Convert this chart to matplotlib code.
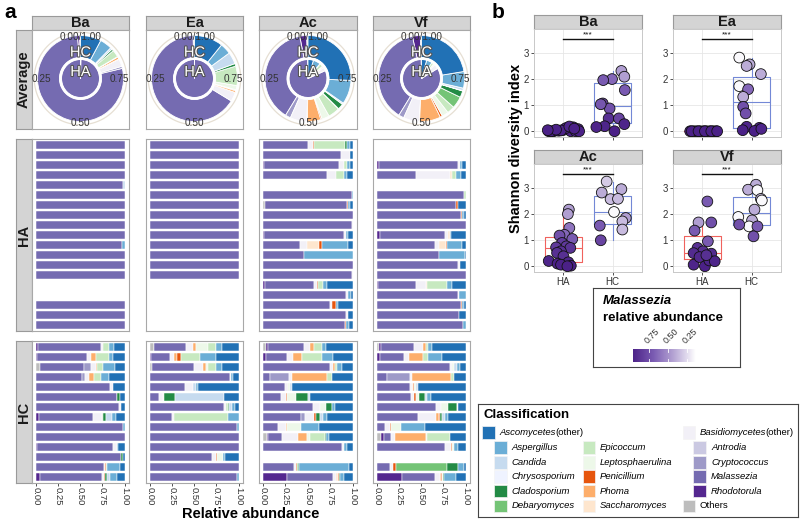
import numpy as np
import matplotlib
matplotlib.use("Agg")
import matplotlib.pyplot as plt
from matplotlib.patches import Rectangle
from matplotlib.text import Annotation
import matplotlib.patheffects as pe
from matplotlib.colors import LinearSegmentedColormap, Normalize

plt.rcParams['font.family'] = ['Liberation Sans', 'DejaVu Sans']

# ---------------- data ----------------
class_names = ["Ascomycetes(other)", "Aspergillus", "Candida", "Chrysosporium", "Cladosporium",
               "Debaryomyces", "Epicoccum", "Leptosphaerulina", "Penicillium", "Phoma",
               "Saccharomyces", "Basidiomycetes(other)", "Antrodia", "Cryptococcus",
               "Malassezia", "Rhodotorula", "Others"]
class_keys = ["Asc", "Asp", "Can", "Chr", "Cla", "Deb", "Epi", "Lep", "Pen", "Pho",
              "Sac", "Bas", "Ant", "Cry", "Mal", "Rho", "Oth"]
class_colors = ["#2171b5", "#6baed6", "#c6dbef", "#eff3ff", "#238b45", "#74c476", "#c7e9c0",
                "#edf8e9", "#e6550d", "#fdae6b", "#fee6ce", "#f2f0f7", "#cbc9e2", "#9e9ac8",
                "#756bb1", "#54278f", "#bdbdbd"]

sites = ["Ba", "Ea", "Ac", "Vf"]

ba_ha = [
    {"Mal": 1.0}, {"Mal": 1.0}, {"Mal": 1.0}, {"Mal": 1.0},
    {"Mal": 0.98, "Can": 0.02},
    {"Mal": 1.0}, {"Mal": 1.0}, {"Mal": 1.0}, {"Mal": 1.0}, {"Mal": 1.0},
    {"Mal": 0.975, "Asp": 0.025},
    {"Mal": 1.0}, {"Mal": 1.0}, {"Mal": 1.0},
    None, None,
    {"Mal": 1.0}, {"Mal": 1.0}, {"Mal": 1.0},
]
ea_ha = [
    {"Mal": 1.0}, {"Mal": 1.0}, {"Mal": 1.0}, {"Mal": 1.0}, {"Mal": 1.0},
    {"Mal": 1.0}, {"Mal": 1.0}, {"Mal": 1.0}, {"Mal": 1.0}, {"Mal": 1.0},
    {"Mal": 1.0}, {"Mal": 1.0}, {"Mal": 1.0}, {"Mal": 1.0},
    None, None, None, None, None,
]
ac_ha = [
    {"Mal": 0.50, "Bas": 0.06, "Pen": 0.01, "Epi": 0.35, "Cla": 0.02, "Asp": 0.03, "Asc": 0.03},
    {"Mal": 0.87, "Bas": 0.10, "Asc": 0.03},
    {"Rho": 0.01, "Mal": 0.84, "Bas": 0.05, "Sac": 0.01, "Epi": 0.03, "Asp": 0.03, "Asc": 0.03},
    {"Mal": 0.72, "Bas": 0.10, "Epi": 0.08, "Asp": 0.04, "Asc": 0.06},
    None,
    {"Mal": 0.99, "Asp": 0.01},
    {"Oth": 0.02, "Mal": 0.92, "Pen": 0.01, "Asp": 0.02, "Asc": 0.03},
    {"Mal": 1.0},
    {"Mal": 0.99, "Bas": 0.01},
    {"Rho": 0.01, "Mal": 0.89, "Bas": 0.03, "Asp": 0.02, "Asc": 0.05},
    {"Mal": 0.41, "Bas": 0.08, "Sac": 0.13, "Pen": 0.04, "Asp": 0.29, "Asc": 0.05},
    {"Mal": 0.46, "Asp": 0.54},
    {"Mal": 1.0},
    {"Mal": 0.99, "Bas": 0.01},
    {"Rho": 0.02, "Mal": 0.55, "Bas": 0.03, "Pen": 0.01, "Epi": 0.06, "Asp": 0.05, "Asc": 0.28},
    {"Mal": 0.93, "Bas": 0.02, "Asp": 0.03, "Asc": 0.02},
    {"Mal": 0.75, "Bas": 0.02, "Pen": 0.05, "Asp": 0.02, "Asc": 0.16},
    {"Mal": 0.93, "Bas": 0.02, "Asc": 0.05},
    {"Mal": 0.92, "Pen": 0.01, "Asp": 0.03, "Asc": 0.04},
]
vf_ha = [
    None, None,
    {"Rho": 0.02, "Mal": 0.90, "Bas": 0.02, "Asp": 0.02, "Asc": 0.04},
    {"Mal": 0.44, "Bas": 0.38, "Sac": 0.03, "Epi": 0.04, "Asp": 0.06, "Asc": 0.05},
    None,
    {"Mal": 0.98, "Epi": 0.02},
    {"Mal": 0.89, "Pen": 0.03, "Asc": 0.08},
    {"Mal": 0.95, "Pen": 0.01, "Asp": 0.02, "Asc": 0.02},
    {"Mal": 1.0},
    {"Rho": 0.03, "Mal": 0.74, "Bas": 0.03, "Sac": 0.02, "Asp": 0.02, "Asc": 0.16},
    {"Mal": 0.65, "Bas": 0.05, "Sac": 0.08, "Pen": 0.01, "Asp": 0.17, "Asc": 0.04},
    {"Mal": 0.70, "Asp": 0.29, "Asc": 0.01},
    {"Mal": 0.92, "Bas": 0.02, "Asc": 0.06},
    {"Mal": 1.0},
    {"Rho": 0.01, "Mal": 0.43, "Bas": 0.11, "Sac": 0.01, "Epi": 0.23, "Asp": 0.06, "Asc": 0.15},
    {"Mal": 0.91, "Bas": 0.02, "Asp": 0.07},
    {"Mal": 0.95, "Pen": 0.01, "Asp": 0.02, "Asc": 0.02},
    {"Mal": 0.93, "Asc": 0.07},
    {"Mal": 0.97, "Asp": 0.03},
]
ba_hc = [
    {"Rho": 0.02, "Mal": 0.71, "Bas": 0.03, "Epi": 0.06, "Asp": 0.06, "Asc": 0.12},
    {"Rho": 0.01, "Mal": 0.57, "Bas": 0.04, "Pho": 0.06, "Epi": 0.14, "Asp": 0.05, "Asc": 0.13},
    {"Oth": 0.05, "Mal": 0.49, "Cry": 0.08, "Bas": 0.06, "Pho": 0.01, "Epi": 0.07, "Asp": 0.13, "Asc": 0.11},
    {"Mal": 0.52, "Cry": 0.03, "Bas": 0.05, "Pho": 0.05, "Epi": 0.08, "Asp": 0.09, "Asc": 0.18},
    {"Mal": 0.84, "Bas": 0.03, "Asc": 0.13},
    {"Mal": 0.91, "Bas": 0.01, "Cla": 0.03, "Asc": 0.05},
    {"Mal": 0.94, "Bas": 0.02, "Asc": 0.04},
    {"Rho": 0.03, "Mal": 0.61, "Bas": 0.10, "Epi": 0.02, "Cla": 0.03, "Can": 0.07, "Asp": 0.04, "Asc": 0.10},
    {"Mal": 0.98, "Asp": 0.02},
    {"Mal": 1.0},
    {"Rho": 0.01, "Mal": 0.86, "Bas": 0.04, "Asp": 0.02, "Asc": 0.07},
    {"Mal": 0.96, "Cla": 0.02, "Asc": 0.02},
    {"Mal": 0.77, "Sac": 0.01, "Pen": 0.01, "Epi": 0.01, "Asp": 0.15, "Asc": 0.05},
    {"Rho": 0.04, "Mal": 0.71, "Bas": 0.02, "Pen": 0.01, "Cla": 0.02, "Can": 0.03, "Asp": 0.08, "Asc": 0.09},
]
ea_hc = [
    {"Oth": 0.04, "Rho": 0.01, "Mal": 0.36, "Bas": 0.08, "Pho": 0.03, "Lep": 0.13, "Epi": 0.09, "Cla": 0.01, "Asp": 0.06, "Asc": 0.19},
    {"Rho": 0.01, "Mal": 0.22, "Bas": 0.04, "Pho": 0.04, "Pen": 0.04, "Epi": 0.21, "Asp": 0.19, "Asc": 0.25},
    {"Oth": 0.02, "Mal": 0.48, "Bas": 0.10, "Pho": 0.03, "Lep": 0.02, "Epi": 0.09, "Asp": 0.07, "Asc": 0.19},
    {"Mal": 0.90, "Bas": 0.02, "Asp": 0.02, "Asc": 0.06},
    {"Mal": 0.40, "Bas": 0.09, "Can": 0.03, "Asp": 0.02, "Asc": 0.46},
    {"Mal": 0.10, "Bas": 0.05, "Lep": 0.01, "Cla": 0.12, "Can": 0.55, "Asc": 0.17},
    {"Mal": 0.83, "Bas": 0.03, "Epi": 0.02, "Cla": 0.01, "Can": 0.04, "Asp": 0.03, "Asc": 0.04},
    {"Mal": 0.25, "Bas": 0.02, "Epi": 0.61, "Asp": 0.12},
    {"Mal": 0.98, "Asp": 0.02},
    {"Mal": 1.0},
    {"Mal": 1.0},
    {"Mal": 0.70, "Bas": 0.05, "Pen": 0.01, "Lep": 0.06, "Asp": 0.03, "Asc": 0.15},
    {"Mal": 1.0},
    {"Mal": 0.98, "Asp": 0.02},
]
ac_hc = [
    {"Oth": 0.03, "Rho": 0.02, "Mal": 0.41, "Bas": 0.07, "Pho": 0.04, "Epi": 0.09, "Asp": 0.04, "Asc": 0.30},
    {"Rho": 0.03, "Mal": 0.24, "Bas": 0.06, "Pho": 0.10, "Lep": 0.01, "Epi": 0.22, "Asp": 0.12, "Asc": 0.22},
    {"Mal": 0.75, "Bas": 0.03, "Pho": 0.02, "Epi": 0.03, "Asp": 0.05, "Asc": 0.12},
    {"Mal": 0.08, "Cry": 0.21, "Bas": 0.03, "Pho": 0.39, "Epi": 0.06, "Asc": 0.23},
    {"Mal": 0.24, "Bas": 0.04, "Lep": 0.02, "Can": 0.02, "Asc": 0.68},
    {"Mal": 0.20, "Bas": 0.06, "Pen": 0.01, "Lep": 0.10, "Cla": 0.13, "Can": 0.02, "Asc": 0.48},
    {"Mal": 0.56, "Bas": 0.08, "Lep": 0.06, "Cla": 0.07, "Asp": 0.03, "Asc": 0.20},
    {"Mal": 0.42, "Cry": 0.05, "Bas": 0.10, "Pen": 0.02, "Cla": 0.05, "Can": 0.03, "Asp": 0.05, "Asc": 0.28},
    {"Mal": 0.17, "Bas": 0.09, "Pho": 0.01, "Lep": 0.15, "Asp": 0.20, "Asc": 0.38},
    {"Oth": 0.04, "Rho": 0.01, "Mal": 0.16, "Bas": 0.18, "Pho": 0.10, "Lep": 0.03, "Epi": 0.17, "Cla": 0.01, "Asp": 0.04, "Asc": 0.26},
    {"Mal": 0.88, "Bas": 0.02, "Pen": 0.01, "Asp": 0.03, "Asc": 0.06},
    None,
    {"Mal": 0.35, "Bas": 0.02, "Pen": 0.01, "Deb": 0.01, "Cla": 0.01, "Asp": 0.56, "Asc": 0.04},
    {"Rho": 0.27, "Mal": 0.51, "Bas": 0.04, "Sac": 0.02, "Pen": 0.01, "Cla": 0.01, "Asp": 0.05, "Asc": 0.09},
]
vf_hc = [
    {"Oth": 0.02, "Rho": 0.03, "Mal": 0.37, "Bas": 0.10, "Pho": 0.03, "Epi": 0.03, "Asp": 0.04, "Asc": 0.38},
    {"Rho": 0.03, "Mal": 0.27, "Bas": 0.06, "Pho": 0.16, "Epi": 0.06, "Asp": 0.15, "Asc": 0.27},
    {"Mal": 0.82, "Bas": 0.03, "Lep": 0.02, "Can": 0.03, "Asp": 0.04, "Asc": 0.06},
    {"Mal": 0.11, "Cry": 0.26, "Bas": 0.02, "Pho": 0.45, "Epi": 0.03, "Asc": 0.13},
    {"Mal": 0.37, "Bas": 0.03, "Sac": 0.01, "Pen": 0.01, "Lep": 0.02, "Can": 0.02, "Asc": 0.54},
    {"Mal": 0.38, "Bas": 0.04, "Pen": 0.02, "Lep": 0.03, "Cla": 0.07, "Can": 0.03, "Asp": 0.04, "Asc": 0.39},
    {"Mal": 0.67, "Bas": 0.05, "Lep": 0.08, "Cla": 0.10, "Chr": 0.02, "Asc": 0.08},
    {"Mal": 0.46, "Bas": 0.21, "Pho": 0.03, "Pen": 0.01, "Cla": 0.02, "Can": 0.04, "Asp": 0.03, "Asc": 0.20},
    {"Mal": 0.09, "Bas": 0.06, "Pen": 0.01, "Lep": 0.11, "Asp": 0.27, "Asc": 0.46},
    {"Oth": 0.04, "Rho": 0.04, "Mal": 0.08, "Bas": 0.04, "Pho": 0.35, "Lep": 0.02, "Epi": 0.25, "Asc": 0.18},
    {"Mal": 0.77, "Bas": 0.06, "Pen": 0.02, "Lep": 0.02, "Asp": 0.04, "Asc": 0.09},
    None,
    {"Mal": 0.15, "Bas": 0.03, "Pen": 0.03, "Deb": 0.58, "Cla": 0.12, "Asp": 0.07, "Asc": 0.02},
    {"Rho": 0.28, "Mal": 0.38, "Bas": 0.05, "Pho": 0.01, "Pen": 0.01, "Lep": 0.02, "Cla": 0.01, "Asp": 0.13, "Asc": 0.11},
]

# Shannon diversity (panel b)
ba_ha_shannon = [0.00, 0.00, 0.02, 0.05, 0.10, 0.15, 0.08, 0.00, 0.00, 0.12, 0.03, 0.00, 0.06, 0.18, 0.00, 0.04, 0.10]
ba_ha_jitter = [-0.30, -0.20, -0.10, 0.00, 0.10, 0.20, 0.30, -0.25, 0.15, 0.05, -0.05, 0.25, -0.15, 0.12, 0.32, -0.32, 0.22]
ba_ha_mal = [1.00, 0.99, 0.99, 0.98, 0.97, 0.96, 0.98, 1.00, 1.00, 0.97, 0.99, 1.00, 0.98, 0.95, 1.00, 0.99, 0.97]
ba_hc_shannon = [2.30, 2.08, 1.99, 1.95, 1.57, 1.06, 0.87, 1.03, 0.49, 0.49, 0.19, 0.27, 0.16, 0.00]
ba_hc_jitter = [0.18, 0.24, -0.01, -0.19, 0.25, -0.20, -0.06, -0.24, -0.08, 0.13, -0.16, 0.24, -0.33, 0.04]
ba_hc_mal = [0.45, 0.45, 0.65, 0.70, 0.70, 0.80, 0.75, 0.72, 0.90, 0.80, 0.95, 0.95, 0.95, 0.98]

ea_ha_shannon = [0.00, 0.00, 0.00, 0.00, 0.00, 0.00, 0.00, 0.00, 0.00, 0.00, 0.00, 0.00, 0.00, 0.00]
ea_ha_jitter = [-0.25, -0.18, -0.12, -0.05, 0.02, 0.08, 0.15, 0.22, 0.28, -0.22, -0.08, 0.05, 0.18, 0.30]
ea_ha_mal = [1.00, 1.00, 0.99, 1.00, 1.00, 1.00, 0.99, 1.00, 1.00, 1.00, 1.00, 0.99, 1.00, 1.00]
ea_hc_shannon = [2.81, 2.55, 2.49, 2.18, 1.72, 1.60, 1.31, 0.93, 0.68, 0.17, 0.13, 0.04, 0.01, 0.09]
ea_hc_jitter = [-0.25, -0.04, -0.10, 0.19, -0.25, -0.07, -0.17, -0.17, -0.12, -0.10, 0.16, -0.18, 0.06, 0.20]
ea_hc_mal = [0.15, 0.40, 0.40, 0.40, 0.15, 0.65, 0.40, 0.75, 0.75, 0.95, 0.95, 0.98, 0.98, 0.95]

ac_ha_shannon = [2.16, 1.99, 1.46, 1.20, 1.17, 1.04, 0.89, 0.76, 0.72, 0.70, 0.57, 0.51, 0.38, 0.20, 0.15, 0.10, 0.06, 0.02, 0.00]
ac_ha_jitter = [0.11, 0.09, 0.12, 0.02, -0.08, 0.18, -0.03, 0.06, -0.15, 0.14, -0.05, -0.13, 0.00, -0.30, 0.10, -0.12, -0.05, 0.15, 0.08]
ac_ha_mal = [0.45, 0.45, 0.60, 0.65, 0.75, 0.70, 0.85, 0.85, 0.85, 0.88, 0.90, 0.90, 0.90, 0.95, 0.95, 0.97, 0.97, 0.99, 1.00]
ac_hc_shannon = [3.23, 2.81, 2.94, 2.56, 2.57, 2.07, 1.84, 1.71, 1.40, 1.55, 0.99]
ac_hc_jitter = [-0.12, -0.22, 0.18, -0.04, 0.11, 0.03, 0.27, 0.20, 0.20, -0.26, -0.24]
ac_hc_mal = [0.30, 0.40, 0.40, 0.35, 0.35, 0.15, 0.45, 0.35, 0.35, 0.70, 0.80]

vf_ha_shannon = [2.47, 1.67, 1.67, 1.36, 0.95, 0.70, 0.57, 0.50, 0.48, 0.06, 0.00, 0.22, 0.19, 0.35, 0.42]
vf_ha_jitter = [0.10, -0.08, 0.18, -0.16, 0.11, -0.10, 0.01, -0.18, 0.18, -0.18, 0.05, 0.14, 0.25, -0.06, 0.08]
vf_ha_mal = [0.70, 0.45, 0.75, 0.70, 0.70, 0.90, 0.90, 0.92, 0.92, 0.95, 0.97, 0.95, 0.95, 0.93, 0.90]
vf_hc_shannon = [3.11, 2.92, 2.90, 2.57, 2.51, 2.16, 1.88, 1.75, 1.52, 1.52, 1.59, 1.14]
vf_hc_jitter = [0.09, -0.07, 0.12, 0.19, 0.21, 0.06, -0.27, 0.01, -0.05, 0.12, -0.25, 0.04]
vf_hc_mal = [0.40, 0.40, 0.15, 0.35, 0.15, 0.40, 0.15, 0.40, 0.15, 0.70, 0.75, 0.75]

mal_ticks = [0.75, 0.50, 0.25]

# ---------------- helpers ----------------
W, H = 800, 520
fig = plt.figure(figsize=(W / 100, H / 100), dpi=100)
color_of = dict(zip(class_keys, class_colors))
name_of = dict(zip(class_keys, class_names))
stack_order = class_keys[::-1]
STRIP_FC = "#d4d4d4"
STRIP_EC = "#9a9a9a"
FRAME = "#a8a8a8"


def axes_px(x0, y0, x1, y1, **kw):
    return fig.add_axes([x0 / W, 1 - y1 / H, (x1 - x0) / W, (y1 - y0) / H], **kw)


def ftext(x, y, s, **kw):
    return fig.text(x / W, 1 - y / H, s, **kw)


def strip(x0, y0, x1, y1, label, rotation=0, size=10.5):
    ax = axes_px(x0, y0, x1, y1)
    ax.set_xticks([]); ax.set_yticks([])
    ax.set_facecolor(STRIP_FC)
    for s in ax.spines.values():
        s.set_color(STRIP_EC); s.set_linewidth(0.8)
    ax.text(0.5, 0.5, label, transform=ax.transAxes, ha="center", va="center",
            fontsize=size, fontweight="bold", rotation=rotation, color="#1a1a1a")
    return ax


def frame(ax):
    for s in ax.spines.values():
        s.set_color(FRAME); s.set_linewidth(0.8)


def mean_comp(samples):
    rows = [d for d in samples if d is not None]
    out = {}
    for k in class_keys:
        out[k] = sum(d.get(k, 0) / sum(d.values()) for d in rows) / len(rows)
    return out


# ---------------- panel a ----------------
col_x = [(32, 129), (146, 243), (259, 357), (373, 470)]
ha_sets = [ba_ha, ea_ha, ac_ha, vf_ha]
hc_sets = [ba_hc, ea_hc, ac_hc, vf_hc]
AVG = (30, 129)
HA_ROW = (139, 331)
HC_ROW = (341, 483)

ftext(4, 12, "a", fontsize=15, fontweight="bold", va="center")
strip(16, AVG[0], 32, AVG[1], "Average", rotation=90, size=10.5)
strip(16, HA_ROW[0], 32, HA_ROW[1], "HA", rotation=90, size=10.5)
strip(16, HC_ROW[0], 32, HC_ROW[1], "HC", rotation=90, size=10.5)

for (x0, x1), site, ha, hc in zip(col_x, sites, ha_sets, hc_sets):
    strip(x0, 16, x1, 30, site)
    # average (polar) panel
    fr = axes_px(x0, AVG[0], x1, AVG[1])
    fr.set_xticks([]); fr.set_yticks([]); frame(fr)
    cx = (x0 + x1) / 2; cy = 78.5; R = 48
    pax = axes_px(cx - R, cy - R, cx + R, cy + R, projection="polar")
    pax.set_theta_zero_location("N")
    pax.set_theta_direction(1)
    pax.set_ylim(0, 1.116)
    pax.set_axis_off()
    tt = np.linspace(0, 2 * np.pi, 300)
    pax.plot(tt, np.full_like(tt, 1.075), color="#e6dfd3", lw=0.9)
    for comp, r0, hh in ((mean_comp(ha), 0.0, 0.44), (mean_comp(hc), 0.49, 0.51)):
        cum = 0.0
        for k in stack_order:
            v = comp[k]
            if v <= 0:
                continue
            pax.bar(2 * np.pi * cum, hh, width=2 * np.pi * v, bottom=r0, align="edge",
                    color=color_of[k], edgecolor="white", linewidth=0.6)
            cum += v
    pax.plot(tt, np.full_like(tt, 0.465), color="white", lw=1.6)
    lab = dict(fontsize=7.2, color="#333333", ha="center", va="center")
    ftext(cx, 37.5, "0.00/1.00", **lab)
    ftext(cx - 39, 78.5, "0.25", **lab)
    ftext(cx + 39, 78.5, "0.75", **lab)
    ftext(cx, 123.5, "0.50", **lab)
    outline = [pe.withStroke(linewidth=1.6, foreground="#555555")]
    ftext(cx, 52.5, "HC", fontsize=10.5, color="white", ha="center", va="center", path_effects=outline)
    ftext(cx, 72, "HA", fontsize=10.5, color="white", ha="center", va="center", path_effects=outline)

    # per-sample bars
    for (r0, r1), samples, is_bottom in ((HA_ROW, ha, False), (HC_ROW, hc, True)):
        ax = axes_px(x0, r0, x1, r1)
        n = len(samples)
        for i, d in enumerate(samples):
            if d is None:
                continue
            tot = sum(d.values())
            left = 0.0
            for k in stack_order:
                v = d.get(k, 0) / tot
                if v <= 0:
                    continue
                ax.barh(i + 1, v, left=left, height=0.84, color=color_of[k],
                        edgecolor="white", linewidth=0.35)
                left += v
        ax.set_ylim(n + 0.6, 0.4)
        ax.set_xlim(-0.045, 1.05)
        ax.set_yticks([])
        frame(ax)
        if is_bottom:
            ax.set_xticks([0, 0.25, 0.5, 0.75, 1.0])
            ax.set_xticklabels(["0.00", "0.25", "0.50", "0.75", "1.00"], rotation=-90,
                               fontsize=6.8, color="#333333")
            ax.tick_params(axis="x", length=2, width=0.6, color="#333333", pad=1)
        else:
            ax.set_xticks([])

ftext(251, 513.5, "Relative abundance", fontsize=10.5, fontweight="bold", ha="center", va="center")

# ---------------- panel b ----------------
ftext(492, 12, "b", fontsize=15, fontweight="bold", va="center")
mal_cmap = LinearSegmentedColormap.from_list("mal", ["#ffffff", "#b9a9d6", "#7b5cb3", "#4b2187"])
mal_norm = Normalize(vmin=0.13, vmax=0.97, clip=True)

b_panels = [
    ("Ba", (534, 29, 642, 137), ba_ha_shannon, ba_ha_jitter, ba_ha_mal, ba_hc_shannon, ba_hc_jitter, ba_hc_mal, False),
    ("Ea", (673, 29, 781, 137), ea_ha_shannon, ea_ha_jitter, ea_ha_mal, ea_hc_shannon, ea_hc_jitter, ea_hc_mal, False),
    ("Ac", (534, 164, 642, 272), ac_ha_shannon, ac_ha_jitter, ac_ha_mal, ac_hc_shannon, ac_hc_jitter, ac_hc_mal, True),
    ("Vf", (673, 164, 781, 272), vf_ha_shannon, vf_ha_jitter, vf_ha_mal, vf_hc_shannon, vf_hc_jitter, vf_hc_mal, True),
]
for name, (x0, y0, x1, y1), has, haj, ham, hcs, hcj, hcm, show_x in b_panels:
    strip(x0, y0 - 14, x1, y0, name, size=10.5)
    ax = axes_px(x0, y0, x1, y1)
    ax.set_xlim(0.4, 2.6)
    ax.set_ylim(-0.22, 3.9)
    ax.set_yticks([0, 1, 2, 3])
    ax.set_xticks([1, 2])
    ax.set_axisbelow(True)
    ax.grid(True, color="#e6e6e6", lw=0.6)
    for s in ax.spines.values():
        s.set_color("#c8c8c8"); s.set_linewidth(0.7)
    ax.tick_params(axis="both", length=2, width=0.6, color="#333333", labelsize=7,
                   labelcolor="#333333", pad=1.5)
    ax.set_xticklabels(["HA", "HC"] if show_x else ["", ""])
    for pos, vals, col in ((1, has, "#f0625d"), (2, hcs, "#7388d6")):
        ax.boxplot([vals], positions=[pos], widths=0.75, showfliers=False, showcaps=False,
                   whis=1.5, boxprops=dict(color=col, lw=0.8), whiskerprops=dict(color=col, lw=0.8),
                   medianprops=dict(color=col, lw=0.8), manage_ticks=False)
    ax.scatter(1 + np.array(haj), has, s=60, c=ham, cmap=mal_cmap, norm=mal_norm,
               edgecolors="#111111", linewidths=0.6, zorder=3)
    ax.scatter(2 + np.array(hcj), hcs, s=60, c=hcm, cmap=mal_cmap, norm=mal_norm,
               edgecolors="#111111", linewidths=0.6, zorder=3)
    ax.plot([1, 2], [3.5, 3.5], color="#111111", lw=1.0)
    ax.text(1.5, 3.56, "***", ha="center", va="bottom", fontsize=6, color="#111111")

ftext(516, 148, "Shannon diversity index", rotation=90, fontsize=10.5, fontweight="bold",
      ha="center", va="center")

# colour bar legend
lg = axes_px(593, 288, 740, 367)
lg.set_xticks([]); lg.set_yticks([])
for s in lg.spines.values():
    s.set_color("#444444"); s.set_linewidth(0.8)
ftext(603, 301, "Malassezia", fontsize=9.5, fontweight="bold", style="italic", va="center")
ftext(603, 318, "relative abundance", fontsize=9.5, fontweight="bold", va="center")
cb = axes_px(632.7, 349, 695.7, 362)
grad = np.linspace(0.13, 0.96, 256)
cb.imshow(grad[np.newaxis, :], extent=[0.13, 0.96, 0, 1], aspect="auto", cmap=mal_cmap, norm=mal_norm)
cb.set_xlim(0.96, 0.13)
cb.set_ylim(0, 1)
cb.set_axis_off()
for t in mal_ticks:
    cb.plot([t, t], [0, 0.2], color="white", lw=0.6)
    cb.plot([t, t], [0.8, 1.0], color="white", lw=0.6)
    cb.text(t, 1.25, f"{t:.2f}", rotation=45, ha="left", va="bottom", fontsize=6.5,
            color="#333333", rotation_mode="anchor", clip_on=False)

# classification legend
cl = axes_px(478, 404, 798, 517)
cl.set_xticks([]); cl.set_yticks([])
for s in cl.spines.values():
    s.set_color("#444444"); s.set_linewidth(0.8)
ftext(483, 415, "Classification", fontsize=9.5, fontweight="bold", va="center")

row_y = [432.7, 447.7, 462.3, 476.7, 491.0, 506.0]
SW = 12.5
entries = [
    ("Asc", 482.0, 0, 499.5),
    ("Asp", 494.0, 1, 511.7), ("Can", 494.0, 2, 511.7), ("Chr", 494.0, 3, 511.7),
    ("Cla", 494.0, 4, 511.7), ("Deb", 494.0, 5, 511.7),
    ("Epi", 582.7, 1, 600.0), ("Lep", 582.7, 2, 600.0), ("Pen", 582.7, 3, 600.0),
    ("Pho", 582.7, 4, 600.0), ("Sac", 582.7, 5, 600.0),
    ("Bas", 682.7, 0, 699.3),
    ("Ant", 693.0, 1, 711.0), ("Cry", 693.0, 2, 711.0), ("Mal", 693.0, 3, 711.0),
    ("Rho", 693.0, 4, 711.0),
    ("Oth", 682.7, 5, 699.3),
]
for key, sx, row, tx in entries:
    yy = row_y[row]
    fig.patches.append(Rectangle((sx / W, 1 - (yy + SW / 2) / H), SW / W, SW / H,
                                 transform=fig.transFigure, facecolor=color_of[key],
                                 edgecolor="#f4f4f4", linewidth=0.5))
    nm = name_of[key]
    if nm.endswith("(other)"):
        t1 = ftext(tx, yy, nm.replace("(other)", ""), fontsize=6.8, style="italic", va="center")
        fig.add_artist(Annotation("(other)", xy=(1, 0.5), xycoords=t1,
                                  va="center", ha="left", fontsize=6.8))
    elif key == "Oth":
        ftext(tx, yy, nm, fontsize=6.8, va="center")
    else:
        ftext(tx, yy, nm, fontsize=6.8, style="italic", va="center")

fig.savefig("out.png", dpi=100)
